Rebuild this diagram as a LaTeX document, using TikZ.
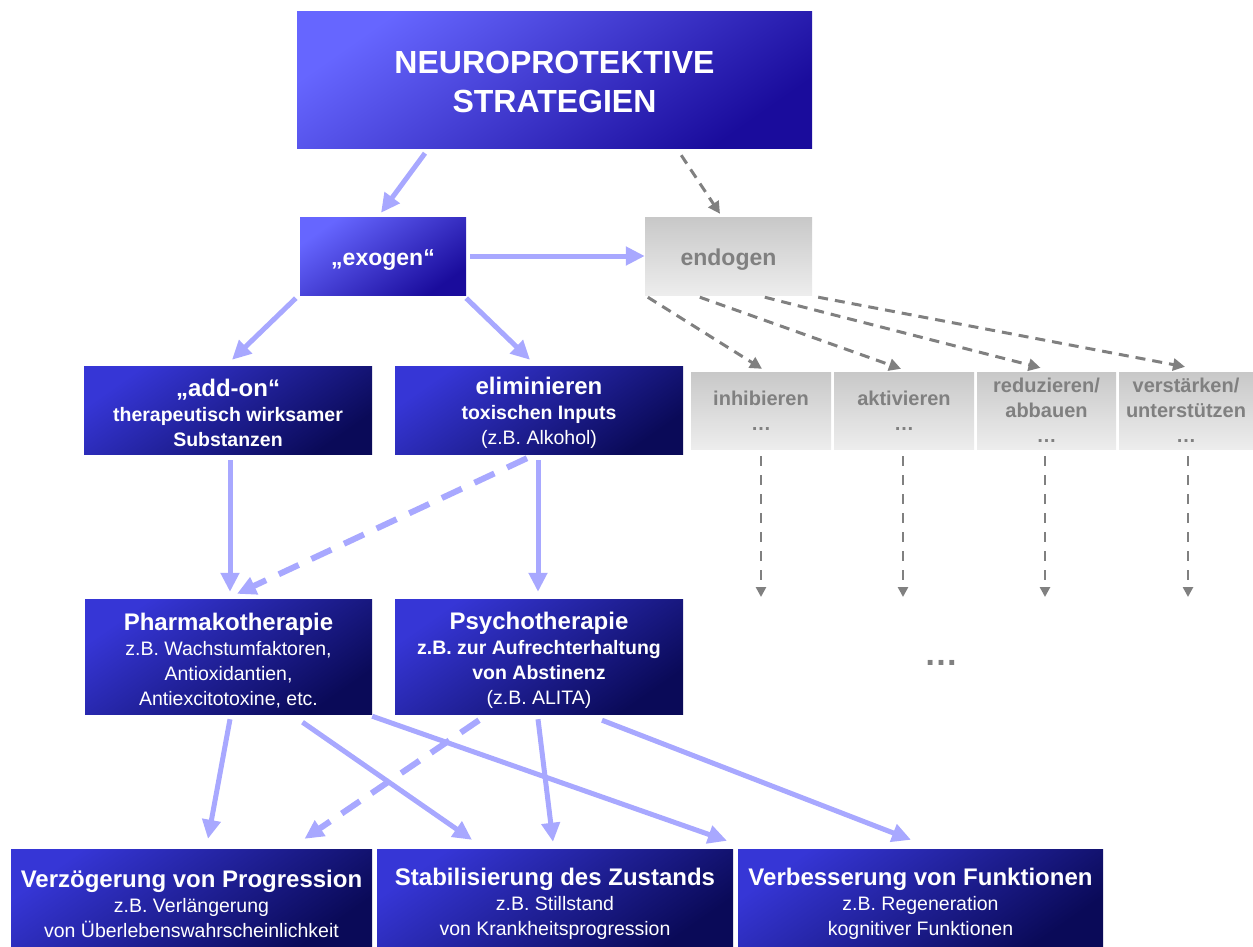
\documentclass[tikz,border=0pt]{standalone}
\usepackage{fontspec}
\setmainfont{Liberation Sans}
\usetikzlibrary{arrows.meta}
\definecolor{litL}{HTML}{6666FF}
\definecolor{litR}{HTML}{1A0C9C}
\definecolor{drkL}{HTML}{3636D6}
\definecolor{drkR}{HTML}{0A0A58}
\definecolor{grT}{HTML}{C8C8C8}
\definecolor{grB}{HTML}{EDEDED}
\definecolor{grText}{HTML}{808080}
\definecolor{arrBlue}{HTML}{A8A8FF}
\definecolor{arrGray}{HTML}{808080}
\newcommand{\dnstrut}[1]{\rule{0pt}{#1}}
\begin{document}
\begin{tikzpicture}[x=1pt,y=-1pt,
  litbox/.style={rectangle, inner sep=0pt, top color=litL, bottom color=litR, shading angle=35, text=white, align=center},
  drkbox/.style={rectangle, inner sep=0pt, top color=drkL, bottom color=drkR, shading angle=35, text=white, align=center, font=\fontsize{19.5}{25}\selectfont},
  greybox/.style={rectangle, inner sep=0pt, top color=grT, bottom color=grB, text=grText, align=center},
  gsmall/.style={greybox, minimum height=77pt, font=\fontsize{20}{25}\selectfont\bfseries},
  barrow/.style={draw=arrBlue, line width=5pt, -{Triangle[length=19pt,width=18pt]}},
  bdash/.style={barrow, line width=6pt, dash pattern=on 22pt off 14pt},
  garrow/.style={draw=arrGray, line width=3pt, dash pattern=on 10pt off 7pt, -{Triangle[length=12pt,width=12pt]}},
  gvert/.style={draw=arrGray, line width=2.5pt, dash pattern=on 10pt off 9pt, -{Triangle[length=10pt,width=10pt]}}
]
\useasboundingbox (0,0) rectangle (1253,946);

% boxes
\node[litbox, minimum width=515pt, minimum height=137pt, font=\fontsize{32}{39}\selectfont\bfseries] (top) at (554.5,79.5) {\dnstrut{27pt}NEUROPROTEKTIVE\\STRATEGIEN};
\node[litbox, minimum width=166pt, minimum height=78pt, font=\fontsize{23}{28}\selectfont\bfseries] (exo) at (383,256) {\dnstrut{23pt}„exogen“};
\node[greybox, minimum width=167pt, minimum height=78pt, font=\fontsize{23}{28}\selectfont\bfseries] (endo) at (728.5,256) {\dnstrut{23pt}endogen};

\node[drkbox, minimum width=288pt, minimum height=88pt, font=\fontsize{19.5}{25}\selectfont\bfseries] (addon) at (228,410) {{\fontsize{24}{26}\selectfont\dnstrut{23pt}„add-on“}\\therapeutisch wirksamer\\Substanzen};
\node[drkbox, minimum width=288pt, minimum height=88pt] (elim) at (539,410) {{\fontsize{24}{26}\selectfont\bfseries\dnstrut{23pt}eliminieren}\\{\bfseries toxischen Inputs}\\(z.B. Alkohol)};

\node[gsmall, minimum width=140pt] (g1) at (761,410.5) {inhibieren\\…};
\node[gsmall, minimum width=140pt] (g2) at (904,410.5) {aktivieren\\…};
\node[gsmall, minimum width=139pt] (g3) at (1046.5,410.5) {reduzieren/\\abbauen\\…};
\node[gsmall, minimum width=134pt] (g4) at (1186,410.5) {verstärken/\\unterstützen\\…};

\node[drkbox, minimum width=287pt, minimum height=115pt] (pharma) at (228.5,656.5) {{\fontsize{24}{26}\selectfont\bfseries\dnstrut{26pt}Pharmakotherapie}\\z.B. Wachstumfaktoren,\\Antioxidantien,\\Antiexcitotoxine, etc.};
\node[drkbox, minimum width=288pt, minimum height=115pt] (psycho) at (539,656.5) {{\fontsize{24}{26}\selectfont\bfseries\dnstrut{26pt}Psychotherapie}\\{\bfseries z.B. zur Aufrechterhaltung}\\{\bfseries von Abstinenz}\\(z.B. ALITA)};

\node[drkbox, minimum width=361pt, minimum height=97pt] (verz) at (191.5,897.5) {{\fontsize{24}{26}\selectfont\bfseries\dnstrut{30pt}Verzögerung von Progression}\\z.B. Verlängerung\\von Überlebenswahrscheinlichkeit};
\node[drkbox, minimum width=356pt, minimum height=97pt] (stab) at (555,897.5) {{\fontsize{24}{26}\selectfont\bfseries\dnstrut{30pt}Stabilisierung des Zustands}\\z.B. Stillstand\\von Krankheitsprogression};
\node[drkbox, minimum width=365pt, minimum height=97pt] (verb) at (920.5,897.5) {{\fontsize{24}{26}\selectfont\bfseries\dnstrut{30pt}Verbesserung von Funktionen}\\z.B. Regeneration\\kognitiver Funktionen};

\node[font=\fontsize{34}{40}\selectfont\bfseries, text=grText, anchor=base, inner sep=0pt] (dots) at (941,665) {…};

% blue arrows
\draw[barrow] ([xshift=-129.5pt,yshift=-5pt]top.south) -- ([xshift=-2pt,yshift=4pt]exo.north);
\draw[barrow] ([xshift=4pt]exo.east) -- (endo.west);
\draw[barrow] ([xshift=-4pt,yshift=-3pt]exo.south west) -- ([xshift=4pt,yshift=6pt]addon.north);
\draw[barrow] ([yshift=-3pt]exo.south east) -- ([xshift=-9pt,yshift=6pt]elim.north);
\draw[barrow] ([xshift=2pt,yshift=-6pt]addon.south) -- ([xshift=1.5pt,yshift=7pt]pharma.north);
\draw[barrow] ([xshift=-1pt,yshift=-6pt]elim.south) -- ([xshift=-1pt,yshift=7pt]psycho.north);
\draw[bdash] ([xshift=-12pt,yshift=-4pt]elim.south) -- ([xshift=8.5pt,yshift=5pt]pharma.north);

\draw[barrow] ([xshift=1.5pt,yshift=-5pt]pharma.south) -- ([xshift=16.5pt,yshift=10pt]verz.north);
\draw[barrow] ([xshift=74pt,yshift=-8pt]pharma.south) -- ([xshift=-83pt,yshift=9pt]stab.north);
\draw[barrow] ([yshift=-2pt]pharma.south east) -- ([xshift=-193.5pt,yshift=8pt]verb.north);
\draw[bdash] ([xshift=-60pt,yshift=-6pt]psycho.south) -- ([xshift=113pt,yshift=10pt]verz.north);
\draw[barrow] ([xshift=-1pt,yshift=-5pt]psycho.south) -- ([xshift=-2pt,yshift=7pt]stab.north);
\draw[barrow] ([xshift=63pt,yshift=-6pt]psycho.south) -- ([xshift=-9.5pt,yshift=9pt]verb.north);

% grey arrows
\draw[garrow] ([xshift=-131pt,yshift=-7pt]top.south east) -- ([xshift=-8.5pt,yshift=3pt]endo.north);
\draw[garrow] ([xshift=3pt,yshift=-2pt]endo.south west) -- ([xshift=1pt,yshift=3pt]g1.north);
\draw[garrow] ([xshift=55pt,yshift=-2pt]endo.south west) -- ([xshift=-3pt,yshift=3pt]g2.north);
\draw[garrow] ([xshift=120pt,yshift=-2pt]endo.south west) -- ([xshift=-6pt,yshift=4pt]g3.north);
\draw[garrow] ([xshift=6pt,yshift=-2pt]endo.south east) -- ([xshift=-1pt,yshift=5pt]g4.north);

\coordinate (v1) at (761,597);
\coordinate (v2) at (903,597);
\coordinate (v3) at (1045,597);
\coordinate (v4) at (1188,597);
\draw[gvert] ([yshift=-7pt]g1.south) -- (v1);
\draw[gvert] ([xshift=-1pt,yshift=-7pt]g2.south) -- (v2);
\draw[gvert] ([xshift=-1.5pt,yshift=-7pt]g3.south) -- (v3);
\draw[gvert] ([xshift=2pt,yshift=-7pt]g4.south) -- (v4);
\end{tikzpicture}
\end{document}
